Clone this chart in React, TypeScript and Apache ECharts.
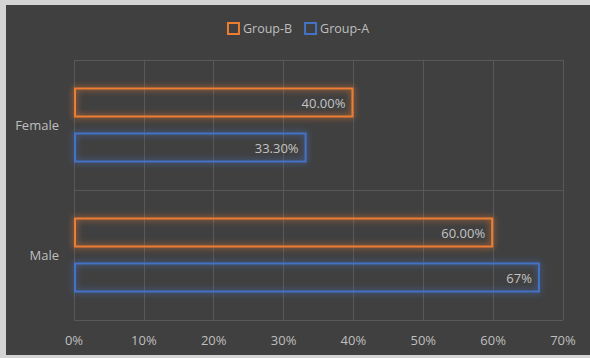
import React, { useEffect, useRef } from "react";
import * as echarts from "echarts";

const categories = ["Male", "Female"];
const groupAValues = [66.7, 33.3];
const groupBValues = [60, 40];
const groupALabels = ["67%", "33.30%"];
const groupBLabels = ["60.00%", "40.00%"];
const xTicks = [0, 10, 20, 30, 40, 50, 60, 70];

const FONT = "'Open Sans', 'Noto Sans', sans-serif";

export default function App() {
  const ref = useRef<HTMLDivElement>(null);
  useEffect(() => {
    if (!ref.current) return;
    const chart = echarts.init(ref.current, null, { renderer: "svg" });
    const mkSeries = (name: string, vals: number[], labels: string[], col: string) => ({
      name,
      type: "bar",
      data: vals,
      barWidth: 30,
      barGap: "50%",
      itemStyle: {
        color: "rgba(64,64,64,0)",
        borderColor: col,
        borderWidth: 2,
        shadowBlur: 6,
        shadowColor: col,
      },
      label: {
        show: true,
        position: "insideRight",
        distance: 8,
        color: "#c4c4c4",
        fontSize: 13,
        fontFamily: FONT,
        formatter: (p: any) => labels[p.dataIndex],
      },
    });
    chart.setOption({
      animation: false,
      backgroundColor: "#404040",
      textStyle: { fontFamily: FONT },
      legend: {
        top: 12,
        left: "center",
        data: ["Group-B", "Group-A"],
        itemWidth: 11,
        itemHeight: 11,
        itemGap: 12,
        icon: "rect",
        textStyle: { color: "#bfbfbf", fontSize: 12.5, fontFamily: FONT, padding: [0, 0, 0, -1] },
      },
      grid: { left: 68, right: 27, top: 55, bottom: 35, containLabel: false },
      xAxis: {
        type: "value",
        min: xTicks[0],
        max: xTicks[xTicks.length - 1],
        interval: 10,
        axisLine: { show: false },
        axisTick: { show: false },
        axisLabel: {
          color: "#bfbfbf",
          fontSize: 13,
          margin: 13,
          fontFamily: FONT,
          formatter: (v: number) => v + "%",
        },
        splitLine: { show: true, lineStyle: { color: "#585858", width: 1 } },
      },
      yAxis: {
        type: "category",
        data: categories,
        axisLine: { show: false },
        axisTick: { show: false },
        axisLabel: { color: "#bfbfbf", fontSize: 13, margin: 15, fontFamily: FONT },
        splitLine: { show: true, lineStyle: { color: "#585858", width: 1 } },
      },
      series: [
        mkSeries("Group-B", groupBValues, groupBLabels, "#ED7D31"),
        mkSeries("Group-A", groupAValues, groupALabels, "#4472C4"),
      ],
    });
    return () => chart.dispose();
  }, []);
  return (
    <div
      style={{
        position: "fixed",
        left: 0,
        top: 0,
        width: 590,
        height: 358,
        background: "#d4d4d4",
      }}
    >
      <div
        ref={ref}
        style={{ position: "absolute", left: 6, top: 5, width: 584, height: 350 }}
      />
    </div>
  );
}
